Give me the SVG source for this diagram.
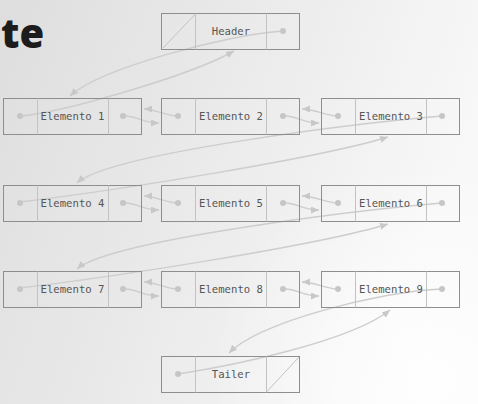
<svg xmlns="http://www.w3.org/2000/svg" width="478" height="404" viewBox="0 0 478 404">
<defs>
<linearGradient id="bg" x1="0" y1="0" x2="1" y2="0.3">
<stop offset="0" stop-color="#dedede"/>
<stop offset="0.45" stop-color="#e9e9e9"/>
<stop offset="1" stop-color="#f8f8f8"/>
</linearGradient>
<radialGradient id="hl" cx="430" cy="380" r="220" gradientUnits="userSpaceOnUse">
<stop offset="0" stop-color="#ffffff" stop-opacity="0.9"/>
<stop offset="1" stop-color="#ffffff" stop-opacity="0"/>
</radialGradient>
<marker id="ah" markerUnits="userSpaceOnUse" markerWidth="9" markerHeight="8" refX="8" refY="3.5" orient="auto">
<path d="M0,0 L8,3.5 L0,7 z" fill="#c8c8c8"/>
</marker>
<style>
.box{fill:none;stroke:#8e8e8e;stroke-width:1}
.div{stroke:#c2c2c2;stroke-width:1}
.lbl{font-family:"DejaVu Sans Mono",monospace;font-size:10.6px;fill:#555;text-anchor:middle}
.dot{fill:#c6c6c6}
.ln{fill:none;stroke:#cdcdcd;stroke-width:1.5;marker-end:url(#ah)}
</style>
</defs>
<rect width="478" height="404" fill="url(#bg)"/>
<rect width="478" height="404" fill="url(#hl)"/>
<text x="1" y="48" font-family="'Open Sans',sans-serif" font-weight="800" font-size="40" fill="#1c1c1c">te</text>

<g id="connectors">
<path class="ln" d="M283,31 C230,34 100,68 70,96"/>
<path class="ln" d="M20,116 C60,113 190,76 234,51"/>
<path class="ln" d="M125,116 C137,116 143,123 159,123"/>
<path class="ln" d="M178,116 C166,116 155,109 144,109"/>
<path class="ln" d="M285,116 C297,116 303,123 319,123"/>
<path class="ln" d="M338,116 C326,116 315,109 302,109"/>
<path class="ln" d="M442,116 C360,123 110,153 77,183"/>
<path class="ln" d="M20,202 C120,190 320,158 388,137"/>
<path class="ln" d="M125,203 C137,203 143,210 159,210"/>
<path class="ln" d="M178,203 C166,203 155,196 144,196"/>
<path class="ln" d="M285,203 C297,203 303,210 319,210"/>
<path class="ln" d="M338,203 C326,203 315,196 302,196"/>
<path class="ln" d="M442,203 C360,210 110,240 77,269"/>
<path class="ln" d="M20,288 C120,276 320,245 388,224"/>
<path class="ln" d="M125,289 C137,289 143,296 159,296"/>
<path class="ln" d="M178,289 C166,289 155,282 144,282"/>
<path class="ln" d="M285,289 C297,289 303,296 319,296"/>
<path class="ln" d="M338,289 C326,289 315,282 302,282"/>
<path class="ln" d="M442,289 C380,291 260,322 229,353"/>
<path class="ln" d="M178,374 C230,366 350,342 390,310"/>
</g>

<g id="header">
<rect class="box" x="161.5" y="13.5" width="138" height="36"/>
<line class="div" x1="195.5" y1="13.5" x2="195.5" y2="49.5"/>
<line class="div" x1="266.5" y1="13.5" x2="266.5" y2="49.5"/>
<line class="div" x1="163" y1="48" x2="195.5" y2="14"/>
<text class="lbl" x="231" y="35">Header</text>
<circle class="dot" cx="283" cy="31" r="3"/>
</g>

<g id="e1">
<rect class="box" x="3.5" y="98.5" width="138" height="36"/>
<line class="div" x1="37.5" y1="98.5" x2="37.5" y2="134.5"/>
<line class="div" x1="108.5" y1="98.5" x2="108.5" y2="134.5"/>
<text class="lbl" x="72.5" y="120">Elemento 1</text>
<circle class="dot" cx="20" cy="116" r="3"/>
<circle class="dot" cx="123" cy="116" r="3"/>
</g>
<g id="e2">
<rect class="box" x="161.5" y="98.5" width="138" height="36"/>
<line class="div" x1="195.5" y1="98.5" x2="195.5" y2="134.5"/>
<line class="div" x1="266.5" y1="98.5" x2="266.5" y2="134.5"/>
<text class="lbl" x="231" y="120">Elemento 2</text>
<circle class="dot" cx="178" cy="116" r="3"/>
<circle class="dot" cx="283" cy="116" r="3"/>
</g>
<g id="e3">
<rect class="box" x="321.5" y="98.5" width="138" height="36"/>
<line class="div" x1="355.5" y1="98.5" x2="355.5" y2="134.5"/>
<line class="div" x1="426.5" y1="98.5" x2="426.5" y2="134.5"/>
<text class="lbl" x="391" y="120">Elemento 3</text>
<circle class="dot" cx="338" cy="116" r="3"/>
<circle class="dot" cx="442" cy="116" r="3"/>
</g>

<g id="e4">
<rect class="box" x="3.5" y="185.5" width="138" height="36"/>
<line class="div" x1="37.5" y1="185.5" x2="37.5" y2="221.5"/>
<line class="div" x1="108.5" y1="185.5" x2="108.5" y2="221.5"/>
<text class="lbl" x="72.5" y="207">Elemento 4</text>
<circle class="dot" cx="20" cy="203" r="3"/>
<circle class="dot" cx="123" cy="203" r="3"/>
</g>
<g id="e5">
<rect class="box" x="161.5" y="185.5" width="138" height="36"/>
<line class="div" x1="195.5" y1="185.5" x2="195.5" y2="221.5"/>
<line class="div" x1="266.5" y1="185.5" x2="266.5" y2="221.5"/>
<text class="lbl" x="231" y="207">Elemento 5</text>
<circle class="dot" cx="178" cy="203" r="3"/>
<circle class="dot" cx="283" cy="203" r="3"/>
</g>
<g id="e6">
<rect class="box" x="321.5" y="185.5" width="138" height="36"/>
<line class="div" x1="355.5" y1="185.5" x2="355.5" y2="221.5"/>
<line class="div" x1="426.5" y1="185.5" x2="426.5" y2="221.5"/>
<text class="lbl" x="391" y="207">Elemento 6</text>
<circle class="dot" cx="338" cy="203" r="3"/>
<circle class="dot" cx="442" cy="203" r="3"/>
</g>

<g id="e7">
<rect class="box" x="3.5" y="271.5" width="138" height="36"/>
<line class="div" x1="37.5" y1="271.5" x2="37.5" y2="307.5"/>
<line class="div" x1="108.5" y1="271.5" x2="108.5" y2="307.5"/>
<text class="lbl" x="72.5" y="293">Elemento 7</text>
<circle class="dot" cx="20" cy="289" r="3"/>
<circle class="dot" cx="123" cy="289" r="3"/>
</g>
<g id="e8">
<rect class="box" x="161.5" y="271.5" width="138" height="36"/>
<line class="div" x1="195.5" y1="271.5" x2="195.5" y2="307.5"/>
<line class="div" x1="266.5" y1="271.5" x2="266.5" y2="307.5"/>
<text class="lbl" x="231" y="293">Elemento 8</text>
<circle class="dot" cx="178" cy="289" r="3"/>
<circle class="dot" cx="283" cy="289" r="3"/>
</g>
<g id="e9">
<rect class="box" x="321.5" y="271.5" width="138" height="36"/>
<line class="div" x1="355.5" y1="271.5" x2="355.5" y2="307.5"/>
<line class="div" x1="426.5" y1="271.5" x2="426.5" y2="307.5"/>
<text class="lbl" x="391" y="293">Elemento 9</text>
<circle class="dot" cx="338" cy="289" r="3"/>
<circle class="dot" cx="442" cy="289" r="3"/>
</g>

<g id="tailer">
<rect class="box" x="161.5" y="356.5" width="138" height="36"/>
<line class="div" x1="195.5" y1="356.5" x2="195.5" y2="392.5"/>
<line class="div" x1="266.5" y1="356.5" x2="266.5" y2="392.5"/>
<line class="div" x1="266.5" y1="392" x2="299" y2="357"/>
<text class="lbl" x="231" y="378">Tailer</text>
<circle class="dot" cx="178" cy="374" r="3"/>
</g>
</svg>
